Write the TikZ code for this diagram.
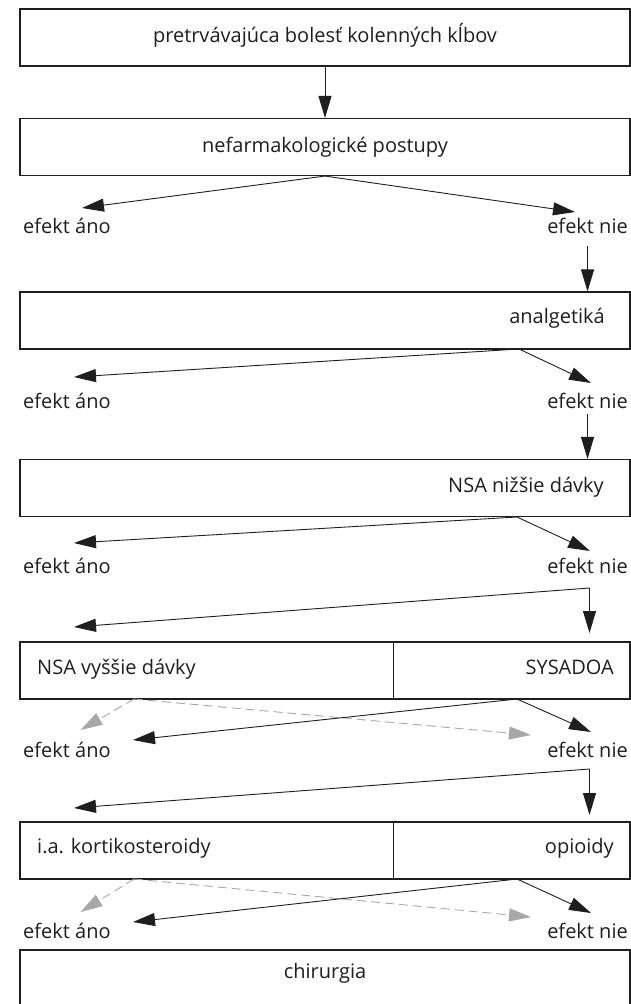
\documentclass[tikz,border=0pt]{standalone}
\usepackage{fontspec}
\setmainfont{Open Sans}
\definecolor{flline}{HTML}{1E1E1E}
\definecolor{flgray}{HTML}{A8A8A8}
\usepackage{tikz}
\usetikzlibrary{arrows.meta, positioning, calc}

\begin{document}
\begin{tikzpicture}[x=1pt, y=-1pt,
  box/.style={draw=flline, line width=1.1pt, minimum height=57pt, inner sep=0pt},
  txt/.style={font=\fontsize{20}{24}\selectfont, inner sep=0pt, text=flline},
  arr/.style={draw=flline, line width=0.9pt, -{Triangle[length=22pt, width=13pt]}},
  garr/.style={draw=flgray, line width=0.9pt, dash pattern=on 9pt off 5pt,
               -{Triangle[length=22pt, width=13pt]}},
]
  \useasboundingbox (0,0) rectangle (631,1004);

  % Boxes
  \node[box, minimum width=610pt] (b1) at (325,37.5) {};
  \node[box, minimum width=610pt] (b2) at (325,147) {};
  \node[box, minimum width=610pt] (b3) at (325,320.5) {};
  \node[box, minimum width=610pt] (b4) at (325,488) {};
  \node[box, minimum width=373.6pt] (b5l) at (206.8,670.5) {};
  \node[box, minimum width=236.4pt] (b5r) at (511.8,670.5) {};
  \node[box, minimum width=373.6pt] (b6l) at (206.8,850.5) {};
  \node[box, minimum width=236.4pt] (b6r) at (511.8,850.5) {};
  \node[box, minimum width=610pt, minimum height=80pt] (b7) at (325,990) {};

  % Box texts
  \node[txt, anchor=base] (t1) at (325,42) {pretrvávajúca bolesť kolenných kĺbov};
  \node[txt, anchor=base] (t2) at (325,152) {nefarmakologické postupy};
  \node[txt, anchor=base east] (t3) at (605,323) {analgetiká};
  \node[txt, anchor=base east] (t4) at (604,492) {NSA nižšie dávky};
  \node[txt, anchor=base west] (t5l) at (37,674) {NSA vyššie dávky};
  \node[txt, anchor=base east] (t5r) at (614,674) {SYSADOA};
  \node[txt, anchor=base west] (t6l) at (37,853) {i.a. kortikosteroidy};
  \node[txt, anchor=base east] (t6r) at (614,853) {opioidy};
  \node[txt, anchor=base] (t7) at (325,978) {chirurgia};

  % Effect labels
  \node[txt, anchor=base west] (ano1) at (23,233) {efekt áno};
  \node[txt, anchor=base east] (nie1) at (628,233) {efekt nie};
  \node[txt, anchor=base west] (ano2) at (23,408) {efekt áno};
  \node[txt, anchor=base east] (nie2) at (628,408) {efekt nie};
  \node[txt, anchor=base west] (ano3) at (23,573) {efekt áno};
  \node[txt, anchor=base east] (nie3) at (628,573) {efekt nie};
  \node[txt, anchor=base west] (ano4) at (23,757) {efekt áno};
  \node[txt, anchor=base east] (nie4) at (628,757) {efekt nie};
  \node[txt, anchor=base west] (ano5) at (23,938) {efekt áno};
  \node[txt, anchor=base east] (nie5) at (628,938) {efekt nie};

  % Arrow ends
  \coordinate (s3) at (519,349);
  \coordinate (s4) at (517,517);
  \coordinate (s5) at (517,699);
  \coordinate (s6) at (517,879);
  \coordinate (g5) at (134,699);
  \coordinate (g6) at (134,879);
  \coordinate (f1) at (589.5,588);
  \coordinate (f2) at (589.5,769);
  \coordinate (a2) at (82,208);    \coordinate (n2) at (575,212);
  \coordinate (a3) at (74,377);    \coordinate (n3) at (591,383);
  \coordinate (a4) at (74,543);    \coordinate (n4) at (590,551);
  \coordinate (k1) at (74,627);    \coordinate (d1) at (589.5,633);
  \coordinate (ga5) at (80.5,730); \coordinate (gn5) at (531,735);
  \coordinate (a5) at (133,740);   \coordinate (n5) at (591,732);
  \coordinate (k2) at (74,808);    \coordinate (d2) at (589.5,815);
  \coordinate (ga6) at (80.5,912); \coordinate (gn6) at (531,917);
  \coordinate (a6) at (133,922);   \coordinate (n6) at (591,913);

  % Connectors
  \draw[arr] (b1.south) -- (b2.north);
  \draw[arr] (b2.south) -- (a2);
  \draw[arr] (b2.south) -- (n2);
  \draw[arr, shorten <=13pt] (nie1.south) -- (b3.north -| nie1.south);
  \draw[arr] (s3) -- (a3);
  \draw[arr] (s3) -- (n3);
  \draw[arr, shorten <=6pt] (nie2.south) -- (b4.north -| nie2.south);
  \draw[arr] (s4) -- (a4);
  \draw[arr] (s4) -- (n4);
  \draw[arr] (f1) -- (k1);
  \draw[arr] (f1) -- (d1);
  \draw[garr] (g5) -- (ga5);
  \draw[garr] (g5) -- (gn5);
  \draw[arr] (s5) -- (a5);
  \draw[arr] (s5) -- (n5);
  \draw[arr] (f2) -- (k2);
  \draw[arr] (f2) -- (d2);
  \draw[garr] (g6) -- (ga6);
  \draw[garr] (g6) -- (gn6);
  \draw[arr] (s6) -- (a6);
  \draw[arr] (s6) -- (n6);
\end{tikzpicture}
\end{document}
